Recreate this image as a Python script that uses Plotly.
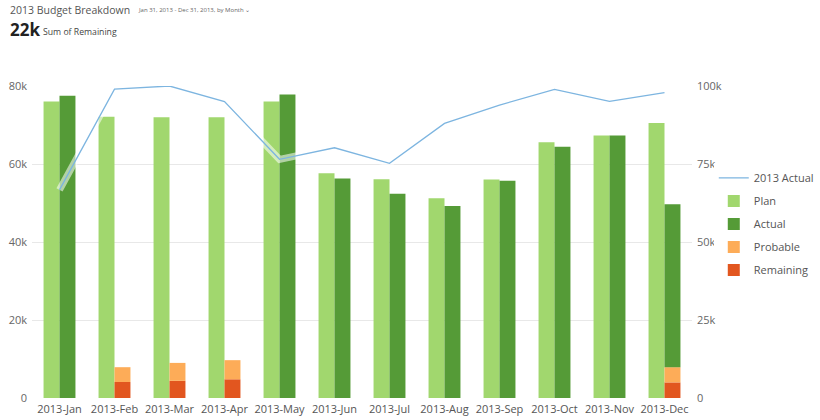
import plotly.graph_objs as go

# Monthly budget data
months = ['2013-Jan', '2013-Feb', '2013-Mar', '2013-Apr', '2013-May', '2013-Jun',
          '2013-Jul', '2013-Aug', '2013-Sep', '2013-Oct', '2013-Nov', '2013-Dec']
plan = [76000, 72100, 72000, 72000, 76000, 57600, 56100, 51200, 56000, 65600, 67300, 70500]
actual = [77500, 0, 0, 0, 77800, 56300, 52400, 49200, 55700, 64400, 67300, 41800]
probable = [0, 3800, 4600, 4900, 0, 0, 0, 0, 0, 0, 0, 3900]
remaining = [0, 4100, 4400, 4800, 0, 0, 0, 0, 0, 0, 0, 4000]
actual_2013 = [66700, 99000, 100000, 95000, 76500, 80200, 75200, 88000, 93900, 98900, 95100, 97900]

left_ticks = [0, 20000, 40000, 60000, 80000]
left_labels = ['0', '20k', '40k', '60k', '80k']
right_ticks = [0, 25000, 50000, 75000, 100000]
right_labels = ['0', '25k', '50k', '75k', '100k']

fig = go.Figure()

# Stack order: Remaining at the bottom, then Probable, then Actual
fig.add_trace(go.Bar(x=months, y=plan, name='Plan', offsetgroup='plan', legendgroup='b',
                     marker=dict(color='#a1d76e', line=dict(width=0)), legendrank=2))
fig.add_trace(go.Bar(x=months, y=remaining, name='Remaining', offsetgroup='act', legendgroup='e',
                     marker=dict(color='#e2561f', line=dict(width=0)), legendrank=5))
fig.add_trace(go.Bar(x=months, y=probable, name='Probable', offsetgroup='act', legendgroup='d',
                     base=remaining,
                     marker=dict(color='#fdac58', line=dict(width=0)), legendrank=4))
fig.add_trace(go.Bar(x=months, y=actual, name='Actual', offsetgroup='act', legendgroup='c',
                     base=[r + p for r, p in zip(remaining, probable)],
                     marker=dict(color='#559b37', line=dict(width=0)), legendrank=3))

# white halo under the line, only visible where it crosses the bars
fig.add_trace(go.Scatter(x=months, y=actual_2013, yaxis='y2', mode='lines',
                         line=dict(color='rgba(255,255,255,0.55)', width=7),
                         showlegend=False, hoverinfo='skip'))
fig.add_trace(go.Scatter(x=months, y=actual_2013, yaxis='y2', mode='lines', name='2013 Actual',
                         legendgroup='a', line=dict(color='#7db5e0', width=1.3), legendrank=1))

fig.update_layout(
    width=820, height=420,
    margin=dict(l=32, r=128, t=86, b=22, autoexpand=False),
    paper_bgcolor='white', plot_bgcolor='white',
    font=dict(family='Open Sans', color='#666666', size=11),
    barmode='group', bargap=0.42, bargroupgap=0,
    showlegend=True,
    legend=dict(x=1.033, y=0.752, xanchor='left', yanchor='top',
                font=dict(size=11, color='#555555'), tracegroupgap=4,
                itemwidth=30, traceorder='grouped'),
    xaxis=dict(showgrid=False, showline=False, ticks='', automargin=False,
               tickfont=dict(size=11, color='#555555'), ticklabelstandoff=3),
    yaxis=dict(range=[0, 80000], tickvals=left_ticks, ticktext=left_labels, automargin=False,
               showgrid=True, gridcolor='#e8e8e8', gridwidth=1, zeroline=False,
               tickfont=dict(size=11, color='#666666'), ticklabelstandoff=4),
    yaxis2=dict(range=[0, 100000], tickvals=right_ticks, ticktext=right_labels, automargin=False,
                overlaying='y', side='right', showgrid=False, zeroline=False,
                tickfont=dict(size=11, color='#666666'), ticklabelstandoff=4),
)

# header texts, positions in paper units of the plot area (top at 86px, height 312px)
fig.update_layout(annotations=[
    dict(text='2013 Budget Breakdown', xref='paper', yref='paper', x=-0.036, y=1.244,
         xanchor='left', yanchor='middle', showarrow=False,
         font=dict(size=10.5, color='#555555')),
    dict(text='Jan 31, 2013 - Dec 31, 2013, by Month \u2304', xref='paper', yref='paper',
         x=0.158, y=1.242, xanchor='left', yanchor='middle', showarrow=False,
         font=dict(size=6, color='#666666')),
    dict(text='<b>22k</b>', xref='paper', yref='paper', x=-0.036, y=1.18,
         xanchor='left', yanchor='middle', showarrow=False,
         font=dict(size=17, color='#222222')),
    dict(text='Sum of Remaining', xref='paper', yref='paper', x=0.014,
         y=1.172, xanchor='left', yanchor='middle', showarrow=False,
         font=dict(size=8.7, color='#444444')),
])

# drop the default page margin so the figure sits at the window's top-left corner
fig.write_html("out.html", config={'displayModeBar': False},
               post_script="document.body.style.margin='0';")
